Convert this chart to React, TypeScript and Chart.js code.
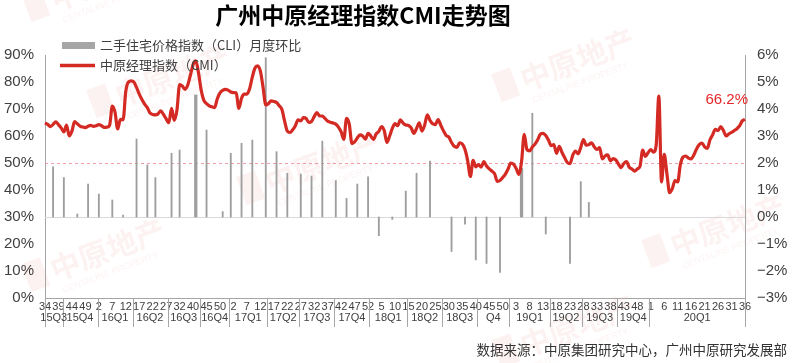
import React, { useEffect, useRef } from 'react';
import { Chart, registerables } from 'chart.js';

Chart.register(...registerables);

const titleText = '广州中原经理指数CMI走势图';
const legendBarText = '二手住宅价格指数（CLI）月度环比';
const legendLineText = '中原经理指数（CMI）';
const sourceText = '数据来源：中原集团研究中心，广州中原研究发展部';

const tickWeeks = ['34','39','44','49','2','7','12','17','22','27','32','40','45','50','2','7','12','17','22','27','32','37','42','47','52','5','10','15','20','25','30','35','40','45','50','3','8','13','18','23','28','33','38','43','48','1','6','11','16','21','26','31','36'];
const tickStep = 5;

const quarterLabels = ['15Q3','15Q4','16Q1','16Q2','16Q3','16Q4','17Q1','17Q2','17Q3','17Q4','18Q1','18Q2','18Q3','Q4','19Q1','19Q2','19Q3','19Q4','20Q1'];
const quarterWeeks = [7,13,13,13,12,11,14,12,13,13,14,13,13,12,15,12,13,12,36];

const cmiValues = [
  64.9, 64.3, 63.5, 64.3, 65.2, 64.2, 63.0, 61.5, 64.0, 60.0,
  61.8, 65.3, 64.5, 63.7, 63.3, 63.1, 63.6, 63.9, 63.6, 63.8,
  64.2, 63.8, 63.2, 63.3, 64.0, 71.1, 68.8, 62.6, 66.2, 66.0,
  76.5, 80.0, 80.4, 80.0, 78.0, 75.5, 73.5, 71.8, 70.5, 68.5,
  68.0, 67.8, 68.2, 69.3, 68.0, 66.3, 64.9, 70.2, 65.8, 69.5,
  79.0, 78.5, 77.3, 78.8, 82.5, 86.4, 87.8, 83.5, 77.0, 73.2,
  72.0, 71.2, 70.8, 70.5, 73.8, 76.0, 76.9, 77.3, 77.0, 76.3,
  76.1, 76.0, 70.2, 74.0, 75.5, 75.5, 77.5, 81.8, 85.2, 86.0,
  84.0, 78.0, 71.5, 72.0, 73.0, 72.8, 72.4, 71.2, 69.8, 65.5,
  61.8, 61.3, 62.3, 63.8, 66.0, 65.6, 66.8, 66.5, 65.0, 65.4,
  67.2, 68.7, 67.4, 67.4, 66.5, 65.5, 65.1, 64.8, 64.4, 63.3,
  61.5, 58.8, 66.5, 64.5, 57.2, 57.8, 59.3, 60.4, 60.0, 58.8,
  61.0, 60.0, 58.7, 60.8, 61.7, 63.5, 62.0, 57.6, 60.0, 62.8,
  64.6, 63.8, 66.0, 64.8, 64.1, 63.9, 63.0, 61.0, 62.8, 64.9,
  61.8, 64.0, 67.8, 65.8, 64.5, 64.2, 66.1, 64.0, 61.9, 60.2,
  59.6, 57.6, 56.2, 55.8, 57.5, 57.0, 55.0, 50.8, 45.0, 51.0,
  48.6, 49.4, 48.5, 50.5, 48.9, 47.8, 47.0, 46.0, 43.2, 43.5,
  44.6, 45.9, 47.8, 50.0, 49.6, 48.0, 45.8, 50.5, 60.6, 55.0,
  54.5, 55.9, 57.0, 58.6, 60.7, 61.0, 60.2, 58.5, 56.4, 56.8,
  53.6, 56.2, 54.0, 52.0, 50.2, 49.8, 52.8, 54.4, 53.4, 55.8,
  58.7, 56.6, 56.8, 57.5, 56.0, 55.0, 55.7, 51.5, 52.6, 53.0,
  50.8, 51.6, 51.2, 49.6, 48.3, 49.8, 50.5, 48.4, 47.8, 47.0,
  47.8, 48.8, 54.8, 52.4, 53.8, 55.0, 54.0, 56.5, 74.8, 43.0,
  53.2, 46.0, 39.0, 40.5, 43.5, 43.0, 49.5, 52.2, 52.6, 51.8,
  51.5, 53.0, 55.2, 56.8, 57.4, 56.0, 55.4, 58.6, 60.5, 62.5,
  62.0, 63.5, 62.0, 60.0, 60.8, 61.3, 62.0, 62.7, 63.8, 65.6,
  66.2,
];

const cliWeekIndex = [3,7,12,16,20,25,29,34,38,41,47,50,60,66,69,73,77,82,86,90,95,99,103,108,112,116,120,124,129,134,138,143,151,156,160,164,169,181,186,195,199,202];
const cliValues = [1.86,1.46,0.11,1.22,0.85,0.63,0.07,2.89,1.93,1.46,2.36,2.48,3.22,0.2,2.36,2.73,2.85,5.9,2.42,1.62,1.59,1.52,2.81,1.35,0.69,1.22,1.49,-0.69,-0.09,0.96,1.62,2.07,-1.28,-0.27,-1.59,-1.72,-2.05,3.84,-0.63,-1.72,1.31,0.54];
const cliWideIndex = [56, 177];
const cliWideValues = [4.52, 1.8];

const leftTicks = { min: 0, max: 90, step: 10 };
const rightTicks = { min: -3, max: 6, step: 1 };
const referenceLevel = 50;

const LATIN = '"Liberation Sans", Arial, sans-serif';
const CJK = '"Noto Sans CJK SC", "Noto Sans", sans-serif';
const RED = '#d42a24';
const GRAY = '#a6a6a6';
const TEXT = '#404040';

function drawWatermark(ctx: CanvasRenderingContext2D, x: number, y: number) {
  ctx.save();
  ctx.translate(x, y);
  ctx.rotate(-0.36);
  ctx.fillStyle = 'rgba(225, 95, 95, 0.08)';
  ctx.fillRect(-70, -24, 20, 30);
  ctx.font = `bold 30px ${CJK}`;
  ctx.textBaseline = 'alphabetic';
  ctx.textAlign = 'left';
  ctx.fillText('中原地产', -44, 4);
  ctx.font = `9px ${LATIN}`;
  ctx.fillText('CENTALINE PROPERTY', -40, 18);
  ctx.restore();
}

const overlayPlugin = {
  id: 'overlay',
  beforeDraw(chart: any) {
    const ctx = chart.ctx as CanvasRenderingContext2D;
    const spots = [[95, 262], [310, 175], [160, 88], [565, 72], [715, 238], [565, 338], [95, -8]];
    spots.forEach(([x, y]) => drawWatermark(ctx, x, y));
  },
  beforeDatasetsDraw(chart: any) {
    const ctx = chart.ctx as CanvasRenderingContext2D;
    const { left, right } = chart.chartArea;
    const yL = chart.scales.y;
    const yR = chart.scales.y1;
    ctx.save();
    ctx.strokeStyle = '#d9d9d9';
    ctx.lineWidth = 1;
    const z = Math.round(yR.getPixelForValue(0)) + 0.5;
    ctx.beginPath();
    ctx.moveTo(left, z);
    ctx.lineTo(right, z);
    ctx.stroke();
    ctx.strokeStyle = '#eb9ca4';
    ctx.setLineDash([3, 3]);
    const r = Math.round(yL.getPixelForValue(referenceLevel)) + 0.5;
    ctx.beginPath();
    ctx.moveTo(left, r);
    ctx.lineTo(right, r);
    ctx.stroke();
    ctx.restore();
  },
  afterDraw(chart: any) {
    const ctx = chart.ctx as CanvasRenderingContext2D;
    const { left, right, bottom } = chart.chartArea;
    const xs = chart.scales.x;
    const yL = chart.scales.y;
    ctx.save();

    // quarter separators and labels
    ctx.strokeStyle = GRAY;
    ctx.lineWidth = 1;
    ctx.fillStyle = TEXT;
    ctx.font = `11px ${LATIN}`;
    ctx.textAlign = 'center';
    ctx.textBaseline = 'middle';
    let start = left;
    let cum = 0;
    const sepBottom = bottom + 29;
    const drawSep = (x: number) => {
      const px = Math.round(x) + 0.5;
      ctx.beginPath();
      ctx.moveTo(px, bottom);
      ctx.lineTo(px, sepBottom);
      ctx.stroke();
    };
    drawSep(start);
    quarterLabels.forEach((q, i) => {
      cum += quarterWeeks[i];
      const end = i === quarterLabels.length - 1
        ? right
        : (xs.getPixelForValue(cum - 1) + xs.getPixelForValue(cum)) / 2;
      drawSep(end);
      ctx.fillText(q, (start + end) / 2, bottom + 20);
      start = end;
    });

    // last value label
    const last = cmiValues.length - 1;
    const lx = xs.getPixelForValue(last);
    const ly = yL.getPixelForValue(cmiValues[last]);
    ctx.fillStyle = '#e3262a';
    ctx.font = `15px ${LATIN}`;
    ctx.textAlign = 'right';
    ctx.fillText(`${cmiValues[last].toFixed(1)}%`, lx + 3, ly - 19);

    // legend
    ctx.fillStyle = GRAY;
    ctx.fillRect(62, 42, 33, 7);
    ctx.strokeStyle = RED;
    ctx.lineWidth = 3.5;
    ctx.beginPath();
    ctx.moveTo(60, 65.5);
    ctx.lineTo(95, 65.5);
    ctx.stroke();
    ctx.fillStyle = TEXT;
    ctx.font = `13px ${CJK}`;
    ctx.textAlign = 'left';
    ctx.fillText(legendBarText, 100, 45.5);
    ctx.fillText(legendLineText, 100, 65);

    // title
    ctx.fillStyle = '#000';
    ctx.font = `bold 23px ${CJK}`;
    ctx.textAlign = 'center';
    ctx.fillText(titleText, 363, 15);

    // source
    ctx.fillStyle = '#333';
    ctx.font = `13.5px ${CJK}`;
    ctx.textAlign = 'right';
    ctx.fillText(sourceText, 787, 350);
    ctx.restore();
  },
};

export default function App() {
  const ref = useRef<HTMLCanvasElement>(null);
  useEffect(() => {
    if (!ref.current) return;
    const labels = cmiValues.map((_, i) => (i % tickStep === 0 ? tickWeeks[i / tickStep] ?? '' : ''));
    const cliData = cmiValues.map((_, i) => {
      const k = cliWeekIndex.indexOf(i);
      return k >= 0 ? cliValues[k] : null;
    });
    const cliWideData = cmiValues.map((_, i) => {
      const k = cliWideIndex.indexOf(i);
      return k >= 0 ? cliWideValues[k] : null;
    });
    const chart = new Chart(ref.current, {
      type: 'bar',
      data: {
        labels,
        datasets: [
          {
            type: 'line',
            label: legendLineText,
            data: cmiValues,
            yAxisID: 'y',
            borderColor: RED,
            borderWidth: 3.2,
            pointRadius: 0,
            cubicInterpolationMode: 'monotone',
            order: 1,
          } as any,
          {
            type: 'bar',
            label: legendBarText,
            data: cliData,
            yAxisID: 'y1',
            backgroundColor: '#9e9e9e',
            barThickness: 1.2,
            grouped: false,
            order: 2,
          } as any,
          {
            type: 'bar',
            label: legendBarText,
            data: cliWideData,
            yAxisID: 'y1',
            backgroundColor: '#9e9e9e',
            barThickness: 2.6,
            grouped: false,
            order: 2,
          } as any,
        ],
      },
      options: {
        responsive: false,
        animation: false,
        devicePixelRatio: 1,
        layout: { padding: { top: 55, left: 0, right: 0, bottom: 0 } },
        plugins: { legend: { display: false }, tooltip: { enabled: false }, title: { display: false } },
        scales: {
          x: {
            type: 'category',
            offset: false,
            grid: { display: false, drawTicks: false },
            border: { display: true, color: GRAY },
            ticks: {
              autoSkip: false,
              maxRotation: 0,
              minRotation: 0,
              padding: 2,
              color: TEXT,
              font: { family: LATIN, size: 11 },
            },
            afterFit: (s: any) => { s.height = 65; },
          },
          y: {
            position: 'left',
            min: leftTicks.min,
            max: leftTicks.max,
            grid: { display: false, drawTicks: false },
            border: { display: true, color: GRAY },
            ticks: {
              stepSize: leftTicks.step,
              padding: 11,
              color: TEXT,
              font: { family: LATIN, size: 15 },
              callback: (v: any) => `${v}%`,
            },
            afterFit: (s: any) => { s.width = 45; },
          },
          y1: {
            position: 'right',
            min: rightTicks.min,
            max: rightTicks.max,
            grid: { display: false, drawTicks: false },
            border: { display: true, color: GRAY },
            ticks: {
              stepSize: rightTicks.step,
              padding: 12,
              color: TEXT,
              font: { family: LATIN, size: 15 },
              callback: (v: any) => (v < 0 ? `\u2212${Math.abs(v)}%` : `${v}%`),
            },
            afterFit: (s: any) => { s.width = 48; },
          },
        },
      } as any,
      plugins: [overlayPlugin],
    });
    return () => chart.destroy();
  }, []);
  return (
    <div style={{ position: 'fixed', left: 0, top: 0, width: 793, height: 363, background: '#fff' }}>
      <canvas ref={ref} width={793} height={363} style={{ display: 'block' }} />
    </div>
  );
}
